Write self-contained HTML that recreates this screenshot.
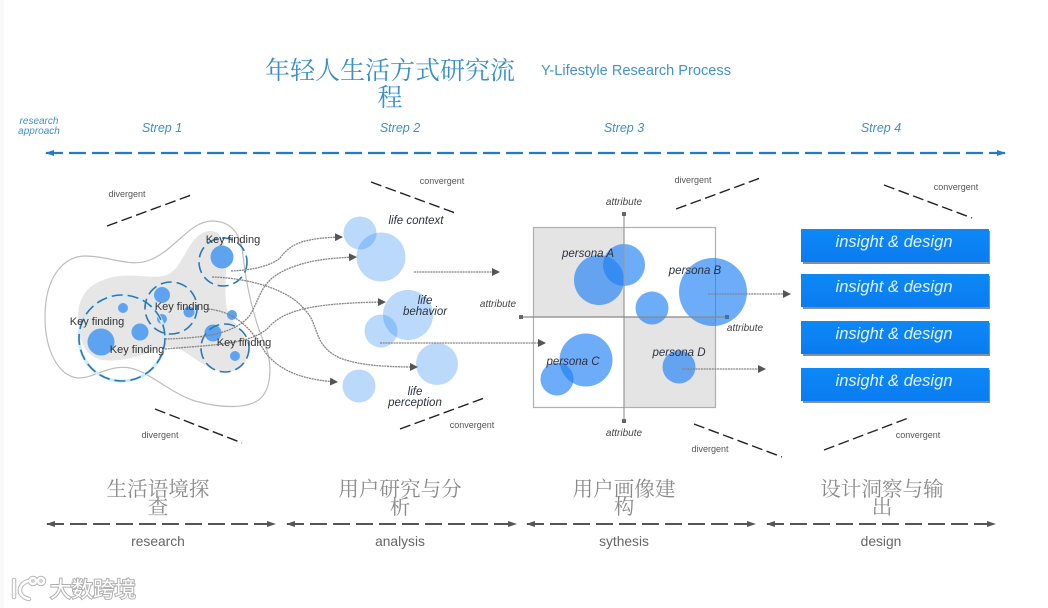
<!DOCTYPE html>
<html lang="zh">
<head>
<meta charset="utf-8">
<title>Y-Lifestyle Research Process</title>
<style>
html,body{margin:0;padding:0;width:1048px;height:608px;background:#fff;overflow:hidden}
svg{display:block;filter:blur(.35px)}
text{font-family:"Liberation Sans","Noto Sans CJK SC",sans-serif}
.cjk{font-family:"Noto Serif CJK SC","Liberation Serif",serif;text-anchor:middle}
.t8{font-size:9px;fill:#555;text-anchor:middle}
.at{font-size:10px;fill:#444;font-style:italic;text-anchor:middle}
.k{font-size:11px;fill:#333;text-anchor:middle}
.i{font-size:11.5px;fill:#2b3340;font-style:italic;text-anchor:middle}
.s{font-size:12.5px;fill:#3f8fc9;font-style:italic;text-anchor:middle}
.b{font-size:13.8px;fill:#666;text-anchor:middle}
.ins{font-size:16.5px;fill:#dff3ff;font-style:italic;text-anchor:middle}
.dash{stroke:#222;stroke-width:1.4;stroke-dasharray:11 4.5;fill:none}
.con{stroke:#858585;stroke-width:1.3;stroke-dasharray:2 .7;fill:none;marker-end:url(#ah)}
.dc{fill:none;stroke:#2a78b8;stroke-width:1.6;stroke-dasharray:11 5}
.halo{fill:none;stroke:#cfeaf8;stroke-width:3}
.lt{fill:#3f95f5;opacity:.36}
.dk{fill:#1f7ff5;opacity:.65}
.sm{fill:#5da3f0}
</style>
</head>
<body>
<svg width="1048" height="608" viewBox="0 0 1048 608" xmlns="http://www.w3.org/2000/svg">
<defs>
<marker id="ah" markerUnits="userSpaceOnUse" markerWidth="9" markerHeight="8" refX="7" refY="4" orient="auto"><path d="M0 0L8 4L0 8Z" fill="#555"/></marker>
<marker id="bl" markerUnits="userSpaceOnUse" markerWidth="10" markerHeight="8" refX="8" refY="4" orient="auto-start-reverse"><path d="M0 1L9 4L0 7Z" fill="#2a78c0"/></marker>
<marker id="gr" markerUnits="userSpaceOnUse" markerWidth="10" markerHeight="8" refX="8" refY="4" orient="auto-start-reverse"><path d="M0 1L9 4L0 7Z" fill="#555"/></marker>
<linearGradient id="bx" x1="0" y1="0" x2="0" y2="1"><stop offset="0" stop-color="#0d88f7"/><stop offset="1" stop-color="#0a7cf0"/></linearGradient>
</defs>

<rect x="0" y="0" width="4" height="608" fill="#f8f8f8"/>

<!-- header -->
<text class="cjk" x="390" y="79" font-size="25" fill="#3a8fc8">年轻人生活方式研究流</text>
<text class="cjk" x="390" y="106" font-size="25" fill="#3a8fc8">程</text>
<text x="541" y="75" font-size="15" fill="#3f93cc" textLength="190" lengthAdjust="spacingAndGlyphs">Y-Lifestyle Research Process</text>
<text x="39" y="124" font-size="10" fill="#3f8fc9" font-style="italic" text-anchor="middle">research</text>
<text x="39" y="134" font-size="10" fill="#3f8fc9" font-style="italic" text-anchor="middle">approach</text>
<text class="s" x="162" y="132">Strep 1</text>
<text class="s" x="400" y="132">Strep 2</text>
<text class="s" x="624" y="132">Strep 3</text>
<text class="s" x="881" y="132">Strep 4</text>
<line x1="46" y1="153" x2="1005" y2="153" stroke="#2a78c0" stroke-width="2.2" stroke-dasharray="17 6" marker-start="url(#bl)" marker-end="url(#bl)"/>

<!-- step 1 -->
<path d="M45 317C45 275 65 256 85 256C110 256 130 268 150 260C175 250 190 221 212 221C232 221 241 235 243 255C246 285 254 320 265 345C272 362 272 385 262 397C250 410 220 408 195 401C170 393 150 372 130 368C110 364 95 378 78 378C58 376 45 350 45 317Z" fill="#fff" stroke="#bdbdbd" stroke-width="1.2"/>
<path d="M78 317C78 295 90 282 113 277C135 272 160 282 172 272C185 262 190 232 210 231C225 231 226 250 226 270C226 285 224 300 228 312C234 325 248 335 248 350C248 365 238 372 228 372C212 372 200 362 188 354C175 345 165 345 150 352C135 358 118 362 102 360C85 356 78 340 78 317Z" fill="#e6e6e6"/>
<circle cx="222" cy="257" r="11.5" class="sm"/>
<circle cx="162" cy="295" r="8" class="sm"/>
<circle cx="189" cy="312" r="5.5" class="sm"/>
<circle cx="162" cy="319" r="5" class="sm"/>
<circle cx="123" cy="308" r="5" class="sm"/>
<circle cx="140" cy="332" r="8.5" class="sm"/>
<circle cx="101" cy="342" r="13.5" class="sm"/>
<circle cx="213" cy="333" r="8.5" class="sm"/>
<circle cx="232" cy="315" r="5" class="sm"/>
<circle cx="235" cy="356" r="5" class="sm"/>
<circle cx="122" cy="338" r="43" class="halo"/><circle cx="122" cy="338" r="43" class="dc"/>
<circle cx="171" cy="308" r="26" class="dc"/>
<circle cx="223" cy="262" r="24" class="dc"/>
<circle cx="225" cy="348" r="24" class="dc"/>

<!-- step 2 circles -->
<circle cx="360" cy="233" r="16.5" class="lt"/>
<circle cx="381" cy="257" r="24.5" class="lt"/>
<circle cx="408" cy="315" r="25" class="lt"/>
<circle cx="381" cy="331" r="16.5" class="lt"/>
<circle cx="437" cy="364" r="21" class="lt"/>
<circle cx="359" cy="386" r="16.5" class="lt"/>

<!-- step 3 -->
<rect x="533" y="227" width="91" height="90" fill="#e4e4e4"/>
<rect x="624" y="317" width="91" height="90" fill="#e4e4e4"/>
<rect x="533.5" y="227.5" width="182" height="180" fill="none" stroke="#b0b0b0" stroke-width="1.2"/>
<circle cx="599" cy="280" r="25" class="dk"/>
<circle cx="624" cy="265" r="21" class="dk"/>
<circle cx="652" cy="308" r="16.5" class="dk"/>
<circle cx="713" cy="292" r="34" class="dk"/>
<circle cx="586" cy="360" r="26.5" class="dk"/>
<circle cx="557" cy="379" r="16.5" class="dk"/>
<circle cx="679" cy="367" r="16.5" class="dk"/>
<line x1="624" y1="214" x2="624" y2="421" stroke="#999" stroke-width="1.2"/>
<line x1="521" y1="317" x2="727" y2="317" stroke="#888" stroke-width="1.2"/>
<rect x="622" y="212" width="4" height="4" fill="#666"/>
<rect x="622" y="419" width="4" height="4" fill="#666"/>
<rect x="519" y="315" width="4" height="4" fill="#666"/>
<rect x="725" y="315" width="4" height="4" fill="#4a6f9e"/>

<!-- step 4 -->
<g fill="#8a8f96">
<rect x="803" y="231" width="187" height="33"/>
<rect x="803" y="276" width="187" height="33"/>
<rect x="803" y="323" width="187" height="33"/>
<rect x="803" y="370" width="187" height="33"/>
</g>
<g fill="url(#bx)">
<rect x="801" y="229" width="188" height="33"/>
<rect x="801" y="274" width="188" height="33"/>
<rect x="801" y="321" width="188" height="33"/>
<rect x="801" y="368" width="188" height="33"/>
</g>
<text class="ins" x="894" y="247" textLength="117">insight &amp; design</text>
<text class="ins" x="894" y="292" textLength="117">insight &amp; design</text>
<text class="ins" x="894" y="339" textLength="117">insight &amp; design</text>
<text class="ins" x="894" y="386" textLength="117">insight &amp; design</text>

<!-- connectors -->
<path class="con" d="M231 271C255 270 272 265 280 258C290 245 300 238 342 237"/>
<path class="con" d="M165 339C200 338 235 335 250 315C262 295 260 280 290 268C310 260 330 258 356 257"/>
<path class="con" d="M212 277C250 278 290 290 305 310C320 325 312 345 340 358C360 366 390 367 417 367"/>
<path class="con" d="M165 349C210 345 250 345 268 328C285 308 320 303 385 302"/>
<path class="con" d="M208 309C240 312 255 335 265 352C280 372 305 380 337 382"/>
<line class="con" x1="414" y1="272" x2="499" y2="272"/>
<line class="con" x1="380" y1="343" x2="545" y2="343"/>
<line class="con" x1="708" y1="294" x2="790" y2="294"/>
<line class="con" x1="682" y1="369" x2="765" y2="369"/>

<!-- dashed diagonals -->
<line class="dash" x1="107" y1="226" x2="194" y2="194"/>
<line class="dash" x1="155" y1="409" x2="242" y2="443"/>
<line class="dash" x1="371" y1="182" x2="458" y2="214"/>
<line class="dash" x1="400" y1="429" x2="487" y2="397"/>
<line class="dash" x1="676" y1="209" x2="763" y2="177"/>
<line class="dash" x1="694" y1="424" x2="782" y2="457"/>
<line class="dash" x1="884" y1="185" x2="972" y2="218"/>
<line class="dash" x1="824" y1="450" x2="911" y2="417"/>

<!-- small labels -->
<text class="t8" x="127" y="197">divergent</text>
<text class="t8" x="160" y="438">divergent</text>
<text class="t8" x="442" y="184">convergent</text>
<text class="t8" x="472" y="428">convergent</text>
<text class="t8" x="693" y="183">divergent</text>
<text class="t8" x="710" y="452">divergent</text>
<text class="t8" x="956" y="190">convergent</text>
<text class="t8" x="918" y="438">convergent</text>

<text class="k" x="233" y="243">Key finding</text>
<text class="k" x="97" y="325">Key finding</text>
<text class="k" x="182" y="310">Key finding</text>
<text class="k" x="137" y="353">Key finding</text>
<text class="k" x="244" y="346">Key finding</text>

<text class="i" x="416" y="224">life context</text>
<text class="i" x="425" y="304">life</text>
<text class="i" x="425" y="315">behavior</text>
<text class="i" x="415" y="395">life</text>
<text class="i" x="415" y="406">perception</text>

<text class="at" x="624" y="205">attribute</text>
<text class="at" x="624" y="436">attribute</text>
<text class="at" x="498" y="307">attribute</text>
<text class="at" x="745" y="331">attribute</text>

<text class="i" x="588" y="257">persona A</text>
<text class="i" x="695" y="274">persona B</text>
<text class="i" x="573" y="365">persona C</text>
<text class="i" x="679" y="356">persona D</text>

<!-- bottom -->
<g fill="#8a8a8a" font-size="20.6">
<text class="cjk" x="158" y="496">生活语境探</text>
<text class="cjk" x="158" y="514">查</text>
<text class="cjk" x="400" y="496">用户研究与分</text>
<text class="cjk" x="400" y="514">析</text>
<text class="cjk" x="624" y="496">用户画像建</text>
<text class="cjk" x="624" y="514">构</text>
<text class="cjk" x="882" y="496">设计洞察与输</text>
<text class="cjk" x="882" y="514">出</text>
</g>
<g stroke="#555" stroke-width="2" stroke-dasharray="17 6">
<line x1="47" y1="524" x2="275" y2="524" marker-start="url(#gr)" marker-end="url(#gr)"/>
<line x1="287" y1="524" x2="516" y2="524" marker-start="url(#gr)" marker-end="url(#gr)"/>
<line x1="527" y1="524" x2="755" y2="524" marker-start="url(#gr)" marker-end="url(#gr)"/>
<line x1="767" y1="524" x2="995" y2="524" marker-start="url(#gr)" marker-end="url(#gr)"/>
</g>
<text class="b" x="158" y="546">research</text>
<text class="b" x="400" y="546">analysis</text>
<text class="b" x="624" y="546">sythesis</text>
<text class="b" x="881" y="546">design</text>

<!-- watermark -->
<g fill="none" stroke="#b8b8b8" stroke-width="4.5" stroke-linecap="round">
<path d="M14 580V597"/><path d="M28 581C18 584 16 596 29 599"/>
<circle cx="33" cy="581" r="3"/><circle cx="41" cy="581" r="3"/>
</g>
<g fill="none" stroke="#fff" stroke-width="2.5" stroke-linecap="round">
<path d="M14 580V597"/><path d="M28 581C18 584 16 596 29 599"/>
<circle cx="33" cy="581" r="3"/><circle cx="41" cy="581" r="3"/>
</g>
<text x="50" y="597" font-size="21.5" fill="#fff" stroke="#b0b0b0" stroke-width="2" paint-order="stroke" style="font-family:'Noto Sans CJK SC',sans-serif">大数跨境</text>
</svg>
</body>
</html>
